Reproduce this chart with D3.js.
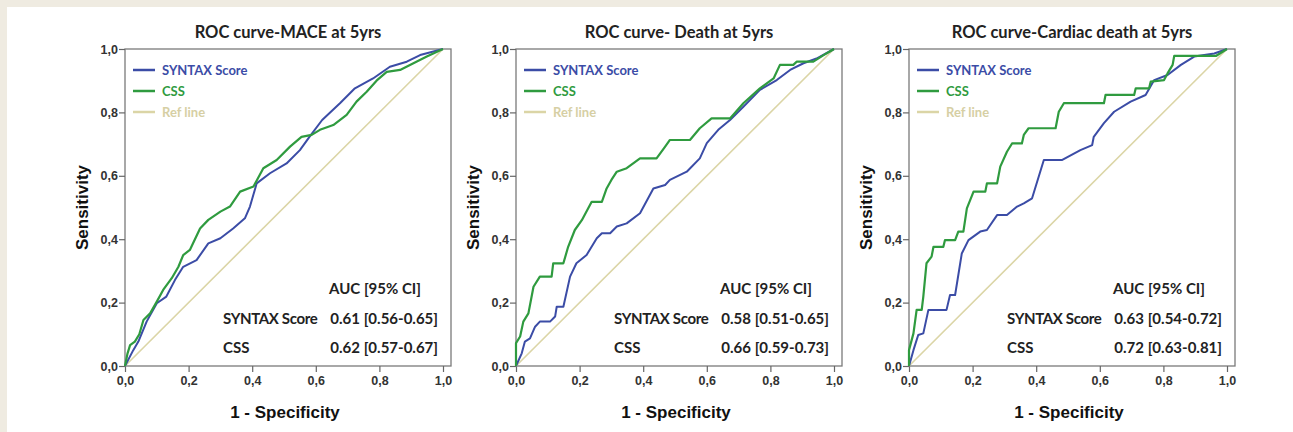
<!DOCTYPE html>
<html>
<head>
<meta charset="utf-8">
<script src="https://cdn.jsdelivr.net/npm/d3@7"></script>
<style>
  html, body { margin: 0; padding: 0; background: #efebe1; }
  svg { display: block; }
</style>
</head>
<body>
<svg id="chart" width="1293" height="432"></svg>
<script>
// ---------------- DATA ----------------
const panelTitles = ["ROC curve-MACE at 5yrs", "ROC curve- Death at 5yrs", "ROC curve-Cardiac death at 5yrs"];
const seriesNames = ["SYNTAX Score", "CSS", "Ref line"];
const tickValues = [0, 0.2, 0.4, 0.6, 0.8, 1.0];
const tickLabels = ["0,0", "0,2", "0,4", "0,6", "0,8", "1,0"];
const aucSyntax = ["0.61 [0.56-0.65]", "0.58 [0.51-0.65]", "0.63 [0.54-0.72]"];
const aucCss = ["0.62 [0.57-0.67]", "0.66 [0.59-0.73]", "0.72 [0.63-0.81]"];

const maceSyntax = [[0,0],[0.026,0.05],[0.042,0.077],[0.068,0.14],[0.10,0.198],[0.13,0.219],[0.157,0.271],[0.183,0.313],[0.225,0.334],[0.262,0.387],[0.30,0.403],[0.34,0.434],[0.377,0.466],[0.393,0.503],[0.414,0.576],[0.456,0.608],[0.508,0.639],[0.55,0.681],[0.58,0.723],[0.62,0.776],[0.676,0.829],[0.723,0.876],[0.78,0.907],[0.833,0.944],[0.886,0.96],[0.928,0.981],[1,1]];
const maceCss = [[0,0],[0.008,0.04],[0.016,0.066],[0.031,0.077],[0.045,0.1],[0.058,0.145],[0.079,0.166],[0.10,0.203],[0.12,0.24],[0.147,0.277],[0.168,0.313],[0.183,0.35],[0.204,0.366],[0.236,0.434],[0.262,0.461],[0.30,0.487],[0.33,0.503],[0.362,0.55],[0.404,0.566],[0.435,0.624],[0.477,0.65],[0.519,0.692],[0.555,0.723],[0.587,0.729],[0.613,0.745],[0.655,0.76],[0.697,0.792],[0.728,0.834],[0.76,0.865],[0.791,0.90],[0.823,0.928],[0.865,0.934],[0.907,0.955],[0.949,0.976],[1,1]];

const deathSyntax = [[0,0],[0.018,0.04],[0.028,0.077],[0.044,0.087],[0.06,0.124],[0.075,0.14],[0.107,0.14],[0.123,0.156],[0.128,0.187],[0.149,0.187],[0.17,0.282],[0.19,0.324],[0.222,0.35],[0.254,0.403],[0.27,0.419],[0.296,0.419],[0.317,0.44],[0.348,0.45],[0.39,0.482],[0.432,0.56],[0.469,0.571],[0.484,0.587],[0.537,0.613],[0.578,0.655],[0.6,0.703],[0.636,0.745],[0.673,0.776],[0.715,0.818],[0.767,0.871],[0.82,0.902],[0.862,0.934],[0.904,0.955],[0.945,0.97],[1,1]];
const deathCss = [[0,0],[0,0.072],[0.013,0.093],[0.023,0.14],[0.039,0.166],[0.055,0.25],[0.075,0.282],[0.112,0.282],[0.117,0.324],[0.149,0.324],[0.164,0.376],[0.185,0.429],[0.207,0.46],[0.238,0.518],[0.27,0.518],[0.285,0.56],[0.30,0.587],[0.317,0.613],[0.348,0.624],[0.39,0.655],[0.442,0.655],[0.469,0.692],[0.484,0.713],[0.547,0.713],[0.578,0.75],[0.615,0.781],[0.673,0.781],[0.715,0.829],[0.767,0.876],[0.81,0.907],[0.83,0.95],[0.872,0.95],[0.883,0.96],[0.935,0.96],[0.966,0.98],[1,1]];

const cardiacSyntax = [[0,0],[0.014,0.05],[0.029,0.098],[0.045,0.103],[0.061,0.177],[0.118,0.177],[0.129,0.224],[0.145,0.224],[0.166,0.355],[0.187,0.397],[0.224,0.424],[0.245,0.429],[0.277,0.476],[0.308,0.476],[0.34,0.503],[0.361,0.513],[0.387,0.529],[0.424,0.65],[0.482,0.65],[0.539,0.681],[0.576,0.697],[0.581,0.723],[0.613,0.766],[0.645,0.802],[0.697,0.834],[0.744,0.855],[0.771,0.902],[0.813,0.918],[0.855,0.95],[0.897,0.976],[0.96,0.986],[1,1]];
const cardiacCss = [[0,0],[0,0.05],[0.014,0.103],[0.024,0.177],[0.040,0.177],[0.045,0.219],[0.055,0.324],[0.071,0.345],[0.077,0.376],[0.108,0.376],[0.113,0.397],[0.145,0.397],[0.155,0.424],[0.171,0.424],[0.182,0.497],[0.203,0.55],[0.24,0.55],[0.245,0.576],[0.277,0.576],[0.287,0.629],[0.308,0.676],[0.324,0.702],[0.355,0.702],[0.361,0.729],[0.376,0.75],[0.461,0.75],[0.471,0.802],[0.487,0.829],[0.613,0.829],[0.618,0.855],[0.708,0.855],[0.713,0.876],[0.755,0.876],[0.76,0.897],[0.802,0.902],[0.813,0.923],[0.829,0.95],[0.834,0.978],[0.965,0.978],[1,1]];

const refLine = [[0,0],[1,1]];

const syntaxSeries = [maceSyntax, deathSyntax, cardiacSyntax];
const cssSeries = [maceCss, deathCss, cardiacCss];

// ---------------- LAYOUT / STYLE ----------------
const colors = { syntax: "#3b4ca6", css: "#2f9b3f", ref: "#dbd5a6" };
const legendTextColors = ["#3b4ca6", "#2f9b3f", "#d6cfa4"];
const panelX0 = [125, 516, 909];
const plotW = 318, plotTop = 49, plotBottom = 366, boxExtra = 8;

const svg = d3.select("#chart");
svg.append("rect").attr("x", 7).attr("y", 7).attr("width", 1293 - 7).attr("height", 432 - 7).attr("fill", "#ffffff");

const y = d3.scaleLinear().domain([0, 1]).range([plotBottom, plotTop]);

panelTitles.forEach((title, i) => {
  const x0 = panelX0[i];
  const x = d3.scaleLinear().domain([0, 1]).range([x0, x0 + plotW]);
  const g = svg.append("g");

  // box
  g.append("rect")
    .attr("x", x0).attr("y", plotTop)
    .attr("width", plotW + boxExtra).attr("height", plotBottom - plotTop)
    .attr("fill", "none").attr("stroke", "#7a7a7a").attr("stroke-width", 1.3);

  // axes
  const xAxis = d3.axisBottom(x).tickValues(tickValues).tickFormat((d, k) => tickLabels[k]).tickSize(6).tickSizeOuter(0);
  const yAxis = d3.axisLeft(y).tickValues(tickValues).tickFormat((d, k) => tickLabels[k]).tickSize(6).tickSizeOuter(0);
  const gx = g.append("g").attr("transform", `translate(0,${plotBottom})`).call(xAxis);
  const gy = g.append("g").attr("transform", `translate(${x0},0)`).call(yAxis);
  [gx, gy].forEach(a => {
    a.select(".domain").remove();
    a.selectAll(".tick line").attr("stroke", "#666").attr("stroke-width", 1.2);
    a.selectAll(".tick text").attr("fill", "#333").style("font-family", "'Liberation Sans', Arial, sans-serif")
      .style("font-size", "12.5px").style("font-weight", "bold");
  });
  gx.selectAll(".tick text").attr("dy", "0.95em").attr("y", 7);
  gy.selectAll(".tick text").attr("x", -7);

  // title
  g.append("text").attr("x", x0 + (plotW + boxExtra) / 2).attr("y", 38)
    .attr("text-anchor", "middle").attr("fill", "#222")
    .style("font-family", "Lato, 'Open Sans', sans-serif").style("font-weight", "bold").style("font-size", "16.5px")
    .text(title);

  // axis labels
  g.append("text").attr("x", x0 + (plotW + boxExtra) / 2 - 3).attr("y", 418)
    .attr("text-anchor", "middle").attr("fill", "#111")
    .style("font-family", "'Liberation Sans', Arial, sans-serif").style("font-weight", "bold").style("font-size", "17px")
    .text("1 - Specificity");
  g.append("text")
    .attr("transform", `translate(${x0 - 37},${(plotTop + plotBottom) / 2}) rotate(-90)`)
    .attr("text-anchor", "middle").attr("fill", "#111")
    .style("font-family", "'Liberation Sans', Arial, sans-serif").style("font-weight", "bold").style("font-size", "17px")
    .text("Sensitivity");

  const line = d3.line().x(d => x(d[0])).y(d => y(d[1]));

  g.append("path").datum(refLine).attr("d", line).attr("fill", "none").attr("stroke", colors.ref).attr("stroke-width", 1.6);
  g.append("path").datum(syntaxSeries[i]).attr("d", line).attr("fill", "none").attr("stroke", colors.syntax).attr("stroke-width", 2).attr("stroke-linejoin", "round");
  g.append("path").datum(cssSeries[i]).attr("d", line).attr("fill", "none").attr("stroke", colors.css).attr("stroke-width", 2.2).attr("stroke-linejoin", "round");

  // legend
  const legendColors = [colors.syntax, colors.css, colors.ref];
  seriesNames.forEach((name, k) => {
    const ly = 70 + k * 21;
    g.append("line").attr("x1", x0 + 8).attr("x2", x0 + 30).attr("y1", ly).attr("y2", ly)
      .attr("stroke", legendColors[k]).attr("stroke-width", 2.5);
    g.append("text").attr("x", x0 + 37).attr("y", ly + 4.5).attr("fill", legendTextColors[k])
      .style("font-family", "Lato, 'Open Sans', sans-serif").style("font-weight", "bold").style("font-size", "13px")
      .text(name);
  });

  // AUC table
  const tf = s => s.style("font-family", "Lato, 'Open Sans', sans-serif").style("font-weight", "bold").style("font-size", "15px").attr("fill", "#222");
  g.append("text").attr("x", x0 + 296).attr("y", 294).attr("text-anchor", "end").call(tf).text("AUC [95% CI]");
  g.append("text").attr("x", x0 + 98).attr("y", 324).call(tf).style("letter-spacing", "-0.35px").text(seriesNames[0]);
  g.append("text").attr("x", x0 + 313).attr("y", 324).attr("text-anchor", "end").call(tf).text(aucSyntax[i]);
  g.append("text").attr("x", x0 + 98).attr("y", 353).call(tf).text(seriesNames[1]);
  g.append("text").attr("x", x0 + 313).attr("y", 353).attr("text-anchor", "end").call(tf).text(aucCss[i]);
});
</script>
</body>
</html>
